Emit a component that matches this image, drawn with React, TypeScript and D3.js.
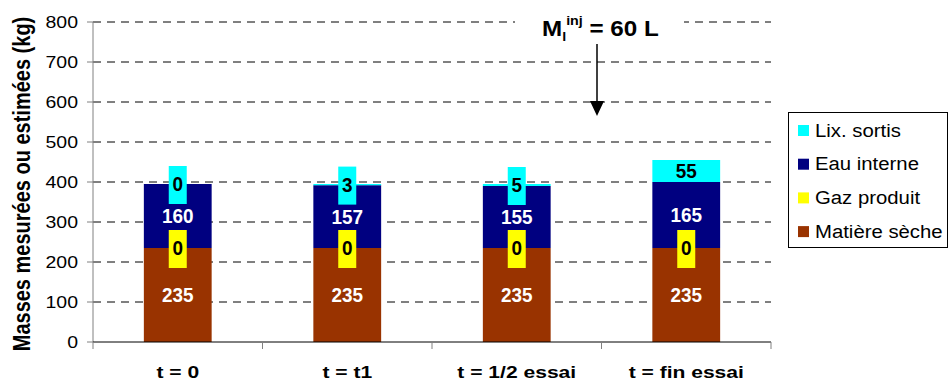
import React from "react";
import * as d3 from "d3";

const categories = ["t = 0", "t = t1", "t = 1/2 essai", "t = fin essai"];
const matiereSeche = [235, 235, 235, 235];
const gazProduit = [0, 0, 0, 0];
const eauInterne = [160, 157, 155, 165];
const lixSortis = [0, 3, 5, 55];
const yTicks = [0, 100, 200, 300, 400, 500, 600, 700, 800];
const seriesNames = ["Matière sèche", "Gaz produit", "Eau interne", "Lix. sortis"];
const legendOrder = ["Lix. sortis", "Eau interne", "Gaz produit", "Matière sèche"];

const COLORS: Record<string, string> = {
  "Matière sèche": "#993300",
  "Gaz produit": "#FFFF00",
  "Eau interne": "#000080",
  "Lix. sortis": "#00FFFF",
};
const TEXTCOL: Record<string, string> = {
  "Matière sèche": "#fff",
  "Gaz produit": "#000",
  "Eau interne": "#fff",
  "Lix. sortis": "#000",
};

const FONT = "'Liberation Sans', Arial, sans-serif";

function T({ x, y, sx = 1.15, size, bold = false, anchor = "middle", fill = "#000", children }: any) {
  return (
    <text
      transform={`translate(${x},${y}) scale(${sx},1)`}
      textAnchor={anchor}
      fontFamily={FONT}
      fontSize={size}
      fontWeight={bold ? "bold" : "normal"}
      fill={fill}
    >
      {children}
    </text>
  );
}

export default function App() {
  const W = 950, H = 385;
  const left = 93, right = 771, top = 22, bottom = 342;
  const y = d3.scaleLinear().domain([0, 800]).range([bottom, top]);
  const x = d3.scaleBand<string>().domain(categories).range([left, right]).padding(0);
  const barW = x.bandwidth() * 0.4;

  const rows = categories.map((c, i) => ({
    cat: c,
    "Matière sèche": matiereSeche[i],
    "Gaz produit": gazProduit[i],
    "Eau interne": eauInterne[i],
    "Lix. sortis": lixSortis[i],
  }));
  const stack = d3.stack<any>().keys(seriesNames)(rows);

  return (
    <svg width={W} height={H} style={{ display: "block", position: "absolute", left: 0, top: 0 }}>
      <rect x={0} y={0} width={W} height={H} fill="#fff" />
      {/* gridlines */}
      {yTicks.filter((t) => t > 0).map((t) => (
        <line key={t} x1={left} x2={right} y1={y(t)} y2={y(t)} stroke="#000" strokeWidth={1} strokeDasharray="8,6" />
      ))}
      {/* y axis */}
      <line x1={left} x2={left} y1={top} y2={bottom} stroke="#808080" strokeWidth={1} />
      {yTicks.map((t) => (
        <g key={t}>
          <line x1={left - 6} x2={left} y1={y(t)} y2={y(t)} stroke="#808080" />
          <T x={left - 15} y={y(t) + 6} size={16.5} sx={1.18} anchor="end">{t}</T>
        </g>
      ))}
      {/* bars */}
      {stack.map((s) => (
        <g key={s.key}>
          {s.map((d, i) => {
            const cx = (x(categories[i]) as number) + x.bandwidth() / 2;
            const h = y(d[0]) - y(d[1]);
            return h > 0 ? (
              <rect key={i} x={cx - barW / 2} y={y(d[1])} width={barW} height={h} fill={COLORS[s.key]} />
            ) : null;
          })}
        </g>
      ))}
      {/* labels */}
      {stack.map((s) => (
        <g key={"l" + s.key}>
          {s.map((d, i) => {
            const cx = (x(categories[i]) as number) + x.bandwidth() / 2;
            const cy = (y(d[0]) + y(d[1])) / 2;
            const h = y(d[0]) - y(d[1]);
            const v = d[1] - d[0];
            const boxed = h < 20;
            return (
              <g key={i}>
                {boxed && <rect x={cx - 9} y={cy - 18} width={18} height={38} fill={COLORS[s.key]} />}
                <T x={cx} y={cy + 7} size={19.5} sx={0.97} bold fill={TEXTCOL[s.key]}>{v}</T>
              </g>
            );
          })}
        </g>
      ))}
      {/* x axis */}
      <line x1={left} x2={right} y1={bottom} y2={bottom} stroke="#000" strokeWidth={1} />
      {categories.map((c, i) => (
        <line key={i} x1={x(c) as number} x2={x(c) as number} y1={bottom} y2={bottom + 7} stroke="#808080" />
      ))}
      <line x1={right} x2={right} y1={bottom} y2={bottom + 7} stroke="#808080" />
      {categories.map((c) => (
        <T key={c} x={(x(c) as number) + x.bandwidth() / 2} y={378} size={17} sx={1.24} bold>{c}</T>
      ))}
      {/* y title */}
      <text
        transform={`translate(30,${(top + bottom) / 2 + 2}) rotate(-90) scale(1,1.15)`}
        textAnchor="middle"
        fontFamily={FONT}
        fontSize={20}
        fontWeight="bold"
      >
        Masses mesurées ou estimées (kg)
      </text>
      {/* annotation */}
      <rect x={515} y={6} width={169} height={36} fill="#fff" />
      <text transform="translate(542,36) scale(1.1,1)" fontFamily={FONT} fontWeight="bold" fontSize={22}>
        M<tspan fontSize={13} dy={5}>l</tspan>
        <tspan fontSize={13} dy={-16}>inj</tspan>
        <tspan dy={11}> = 60 L</tspan>
      </text>
      <line x1={597} x2={597} y1={44} y2={103} stroke="#000" strokeWidth={1.5} />
      <polygon points="590,101 604,101 597,116" fill="#000" />
      {/* legend */}
      <rect x={788.5} y={112.5} width={159} height={135} fill="#fff" stroke="#000" strokeWidth={1} />
      {legendOrder.map((k, i) => {
        const cy = 130 + i * 33.7;
        return (
          <g key={k}>
            <rect x={798} y={cy - 5} width={11} height={11} fill={COLORS[k]} />
            <T x={815} y={cy + 6.5} size={18} sx={1.13} anchor="start">{k}</T>
          </g>
        );
      })}
    </svg>
  );
}
